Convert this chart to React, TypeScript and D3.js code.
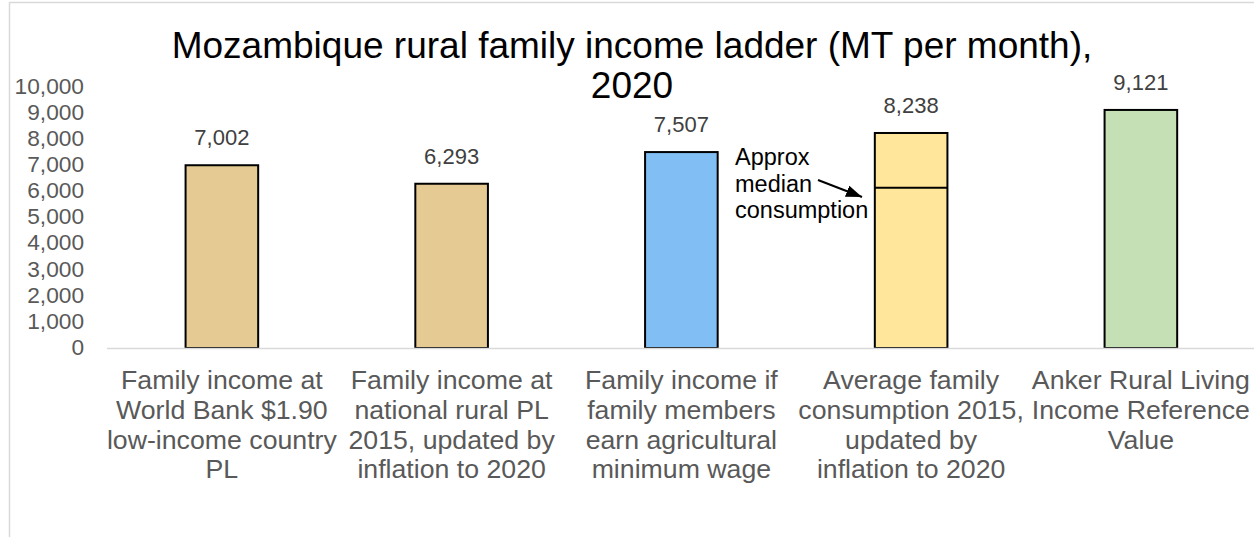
import React from "react";
import * as d3 from "d3";

const categories: string[][] = [
  ["Family income at", "World Bank $1.90", "low-income country", "PL"],
  ["Family income at", "national rural PL", "2015, updated by", "inflation to 2020"],
  ["Family income if", "family members", "earn agricultural", "minimum wage"],
  ["Average family", "consumption 2015,", "updated by", "inflation to 2020"],
  ["Anker Rural Living", "Income Reference", "Value"],
];
const values: number[] = [7002, 6293, 7507, 8238, 9121];
const colors: string[] = ["#E5CB93", "#E5CB93", "#80BEF4", "#FFE69A", "#C5E0B4"];
const medianConsumption = 6140;
const yTicks: number[] = [0, 1000, 2000, 3000, 4000, 5000, 6000, 7000, 8000, 9000, 10000];
const titleLines = ["Mozambique rural family income ladder (MT per month),", "2020"];
const annotationLines = ["Approx", "median", "consumption"];

const W = 1254;
const H = 537;
const FONT = "'Liberation Sans', Arial, sans-serif";

export default function App() {
  const ids = categories.map((_, i) => String(i));
  const x = d3.scaleBand<string>().domain(ids).range([107, 107 + 5 * 229.75]).padding(0);
  const y = d3.scaleLinear().domain([0, 10000]).range([348, 87]);
  const bw = x.bandwidth() * 0.316;
  const fmt = d3.format(",");
  const cx = (i: number) => (x(String(i)) as number) + x.bandwidth() / 2;

  return (
    <svg width={W} height={H} style={{ position: "absolute", left: 0, top: 0 }} fontFamily={FONT}>
      <defs>
        <marker id="arr" viewBox="0 0 10 10" refX="10" refY="5" markerWidth="16" markerHeight="12" orient="auto" markerUnits="userSpaceOnUse" preserveAspectRatio="none">
          <path d="M0,0 L10,5 L0,10 z" fill="#000" />
        </marker>
      </defs>
      <rect x={0} y={0} width={W} height={H} fill="#fff" />
      <rect x={9.5} y={2.5} width={W + 20} height={H + 20} fill="none" stroke="#d9d9d9" strokeWidth={1.5} />
      {titleLines.map((t, i) => (
        <text key={i} x={632} y={58 + i * 40} textAnchor="middle" fontSize={37} fill="#000">
          {t}
        </text>
      ))}
      {yTicks.map((t) => (
        <text key={t} x={84} y={y(t)} dy="0.3em" textAnchor="end" fontSize={22.7} fill="#595959">
          {fmt(t)}
        </text>
      ))}
      {values.map((v, i) => (
        <g key={i}>
          <rect
            x={cx(i) - bw / 2}
            y={y(v)}
            width={bw}
            height={y(0) - y(v)}
            fill={colors[i]}
            stroke="#000"
            strokeWidth={2}
          />
          <text x={cx(i)} y={y(v) - 20} textAnchor="middle" fontSize={22} fill="#404040">
            {fmt(v)}
          </text>
          {categories[i].map((line, j) => (
            <text key={j} x={cx(i)} y={380 + j * 29.7} dy="0.35em" textAnchor="middle" fontSize={26.7} fill="#595959">
              {line}
            </text>
          ))}
        </g>
      ))}
      <line x1={cx(3) - bw / 2} x2={cx(3) + bw / 2} y1={y(medianConsumption)} y2={y(medianConsumption)} stroke="#000" strokeWidth={2} />
      <line x1={107} x2={W} y1={y(0) + 0.5} y2={y(0) + 0.5} stroke="#d9d9d9" strokeWidth={1.5} />
      {annotationLines.map((t, i) => (
        <text key={i} x={735} y={157 + i * 26.5} dy="0.35em" fontSize={23.5} fill="#000">
          {t}
        </text>
      ))}
      <line x1={818} y1={180} x2={862} y2={197} stroke="#000" strokeWidth={2} markerEnd="url(#arr)" />
    </svg>
  );
}
